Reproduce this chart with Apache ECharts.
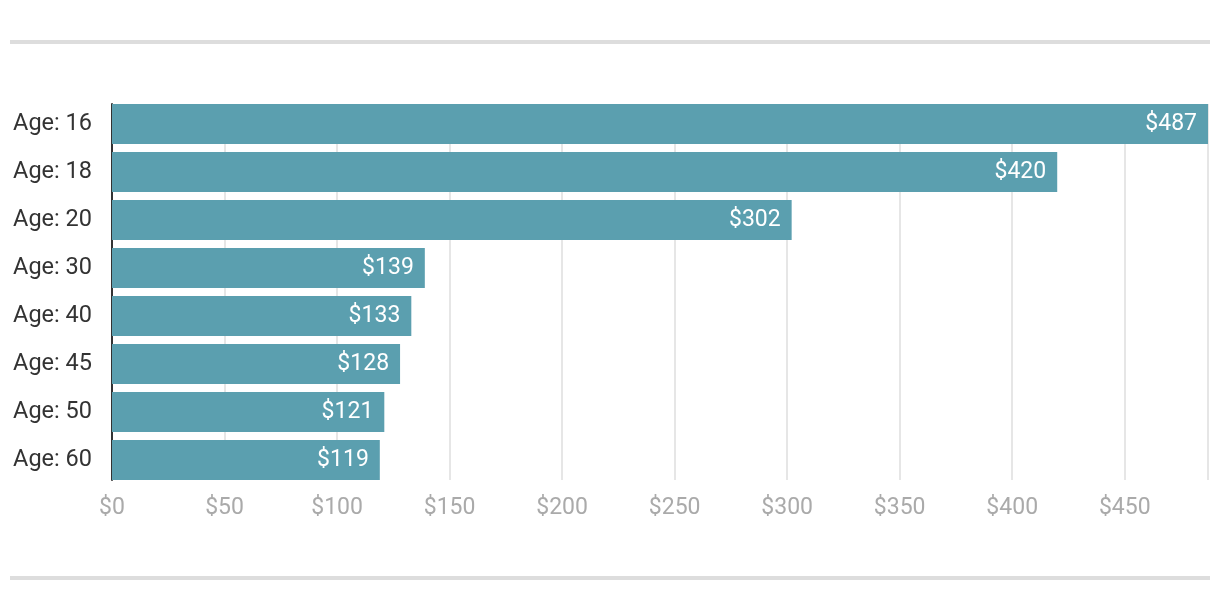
<!DOCTYPE html>
<html><head><meta charset="utf-8">
<script src="https://cdn.jsdelivr.net/npm/echarts@6/dist/echarts.min.js"></script>
<style>html,body{margin:0;padding:0;background:#fff}#c{width:1220px;height:610px}</style>
</head><body><div id="c"></div>
<script>
const categories = ['Age: 16','Age: 18','Age: 20','Age: 30','Age: 40','Age: 45','Age: 50','Age: 60'];
const values = [487, 420, 302, 139, 133, 128, 121, 119];
const xMax = 487;
const xInterval = 50;

const chart = echarts.init(document.getElementById('c'), null, {renderer: 'canvas'});
chart.setOption({
  animation: false,
  textStyle: {fontFamily: 'Roboto'},
  graphic: [
    {type: 'rect', shape: {x: 10, y: 40, width: 1200, height: 4}, style: {fill: '#dddddd'}},
    {type: 'rect', shape: {x: 10, y: 576, width: 1200, height: 4}, style: {fill: '#dddddd'}}
  ],
  grid: [
    {left: 112, right: 12, top: 104, bottom: 130, containLabel: false},
    {left: 112, right: 12, top: 100, bottom: 126, containLabel: false}
  ],
  xAxis: [{
    gridIndex: 0, type: 'value', min: 0, max: xMax, interval: xInterval,
    axisLine: {show: false}, axisTick: {show: false},
    splitLine: {show: true, lineStyle: {color: '#e6e6e6', width: 2}},
    axisLabel: {color: '#aaaaaa', fontSize: 23, fontFamily: 'Roboto', margin: 17,
      formatter: v => '$' + v, showMaxLabel: false}
  }, {
    gridIndex: 1, type: 'value', min: 0, max: xMax, show: false
  }],
  yAxis: [{
    gridIndex: 0, type: 'value', min: 0, max: 1,
    axisLine: {show: true, lineStyle: {color: '#333333', width: 2}},
    axisTick: {show: false}, axisLabel: {show: false}, splitLine: {show: false}
  }, {
    gridIndex: 1, type: 'category', data: categories, inverse: true,
    axisLine: {show: false}, axisTick: {show: false},
    axisLabel: {color: '#333333', fontSize: 23.5, fontFamily: 'Roboto', margin: 20,
      padding: [4, 0, 0, 0]}
  }],
  series: [{
    type: 'bar', data: values, barCategoryGap: '16.7%',
    xAxisIndex: 1, yAxisIndex: 1, z: 3,
    itemStyle: {color: '#5b9faf'},
    label: {show: true, position: 'insideRight', distance: 11, color: '#ffffff',
      fontSize: 23, fontFamily: 'Roboto', padding: [4, 0, 0, 0],
      formatter: p => '$' + p.value}
  }]
});
</script></body></html>
